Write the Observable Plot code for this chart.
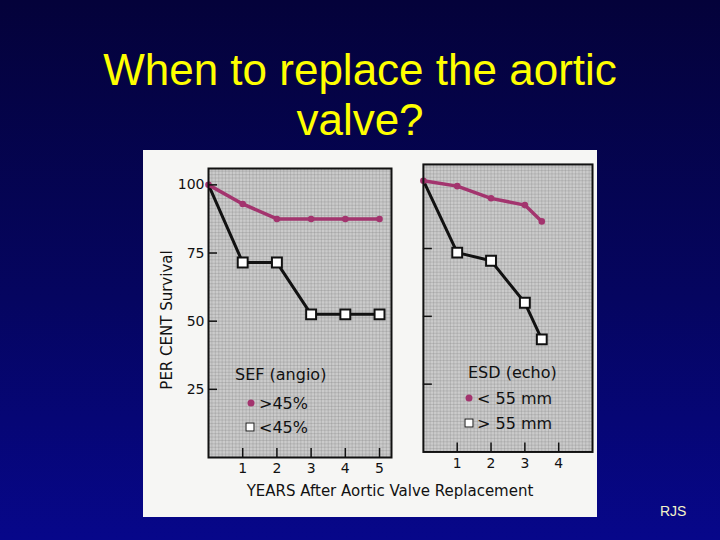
<!DOCTYPE html>
<html>
<head>
<meta charset="utf-8">
<script src="https://cdn.jsdelivr.net/npm/d3@7"></script>
<script src="https://cdn.jsdelivr.net/npm/@observablehq/plot@0.6"></script>
<style>
  html, body { margin: 0; padding: 0; }
  body {
    width: 720px; height: 540px; overflow: hidden; position: relative;
    background: linear-gradient(to bottom, #04023a 0%, #050560 55%, #07078a 100%);
    font-family: "Liberation Sans", Arial, sans-serif;
  }
  .title {
    position: absolute; left: 0; top: 45px; width: 720px;
    text-align: center; color: #ffff00; font-size: 44px; line-height: 50px;
  }
  #box {
    position: absolute; left: 143px; top: 150px; width: 454px; height: 367px;
    background: #f6f6f4;
  }
  #left { position: absolute; left: 0; top: 0; }
  #right { position: absolute; left: 257px; top: 0; }
  .lab {
    position: absolute; font-family: "DejaVu Sans", sans-serif; color: #111;
    white-space: nowrap;
  }
  .dot { position: absolute; width: 7px; height: 7px; border-radius: 50%; background: #a3346e; transform: translate(-50%, -50%); }
  .sq { position: absolute; width: 7px; height: 7px; border: 1.8px solid #111; background: #fff; transform: translate(-50%, -50%); }
  .rjs { position: absolute; left: 660px; top: 503px; color: #f4f4c8; font-size: 14px; }
</style>
</head>
<body>
<div class="title">When to replace the aortic<br>valve?</div>
<div id="box">
  <div id="left"></div>
  <div id="right"></div>
</div>
<div class="rjs">RJS</div>
<script>
// ---- data ----
const sefYears = [0, 1, 2, 3, 4, 5];
const sefAbove45 = [100, 93, 87.5, 87.5, 87.5, 87.5];
const sefBelow45 = [100, 71.5, 71.5, 52.5, 52.5, 52.5];

const esdYears = [0, 1, 2, 3, 3.5];
const esdBelow55 = [100, 98, 93.5, 91, 85];
const esdAbove55 = [100, 73.5, 70.5, 55, 41.5];

const yTicksLeft = [25, 50, 75, 100];
const yTicksRight = [25, 50, 75];
const xTicksLeft = [1, 2, 3, 4, 5];
const xTicksRight = [1, 2, 3, 4];

const sefLegend = ["SEF (angio)", ">45%", "<45%"];
const esdLegend = ["ESD (echo)", "< 55 mm", "> 55 mm"];
const yAxisLabel = "PER CENT Survival";
const xAxisLabel = "YEARS After Aortic Valve Replacement";

const magenta = "#a3346e";

function panel({years, top, bottom, xMax, xTicks, yTicks, showYLabels, width, height, margins}) {
  const rowsTop = years.map((x, i) => ({x, y: top[i]}));
  const rowsBot = years.map((x, i) => ({x, y: bottom[i]}));
  return Plot.plot({
    width, height, ...margins,
    style: {background: "transparent", fontFamily: "DejaVu Sans, sans-serif", fontSize: "14px", color: "#111", overflow: "visible"},
    x: {domain: [0, xMax], axis: null},
    y: {domain: [0, 106], axis: null},
    marks: [
      Plot.frame({fill: "#cbcbcb"}),
      Plot.gridX(d3.range(0.1, xMax, 0.1), {stroke: "#7e7e7e", strokeOpacity: 0.28}),
      Plot.gridY(d3.range(1.25, 106, 1.25), {stroke: "#7e7e7e", strokeOpacity: 0.28}),
      Plot.line(rowsBot, {x: "x", y: "y", stroke: "#111", strokeWidth: 3}),
      Plot.dot(rowsBot.filter(d => d.x > 0), {x: "x", y: "y", symbol: "square", r: 5.6, fill: "white", stroke: "#111", strokeWidth: 2}),
      Plot.line(rowsTop, {x: "x", y: "y", stroke: magenta, strokeWidth: 3.5}),
      Plot.dot(rowsTop, {x: "x", y: "y", r: 3.3, fill: magenta}),
      Plot.axisX(xTicks, {anchor: "bottom", tickSize: -9, tickPadding: 15, label: null, fontSize: 14, stroke: "#111", strokeWidth: 1.5}),
      Plot.axisY(yTicks, {anchor: "left", tickSize: -9, tickPadding: 13, label: null, fontSize: 14, stroke: "#111", strokeWidth: 1.5,
        tickFormat: showYLabels ? (d => String(d)) : (() => "")}),
      Plot.frame({stroke: "#111", strokeWidth: 2})
    ]
  });
}

document.getElementById("left").append(panel({
  years: sefYears, top: sefAbove45, bottom: sefBelow45, xMax: 5.35,
  xTicks: xTicksLeft, yTicks: yTicksLeft, showYLabels: true,
  width: 254, height: 337,
  margins: {marginLeft: 65, marginRight: 6, marginTop: 18, marginBottom: 30}
}));

document.getElementById("right").append(panel({
  years: esdYears, top: esdBelow55, bottom: esdAbove55, xMax: 5.0,
  xTicks: xTicksRight, yTicks: yTicksRight, showYLabels: false,
  width: 198, height: 333,
  margins: {marginLeft: 23, marginRight: 5, marginTop: 14, marginBottom: 30}
}));

// ---- labels & legends (positions relative to the white box) ----
const box = document.getElementById("box");
function addEl(cls, text, left, top, extra = {}) {
  const el = document.createElement("div");
  el.className = cls;
  if (text != null) el.textContent = text;
  el.style.left = left + "px";
  el.style.top = top + "px";
  Object.assign(el.style, extra);
  box.append(el);
  return el;
}
addEl("lab", xAxisLabel, 247, 341, {fontSize: "15px", transform: "translate(-50%, -50%)"});
addEl("lab", yAxisLabel, 24, 170, {fontSize: "15px", transform: "translate(-50%, -50%) rotate(-90deg)"});

addEl("lab", sefLegend[0], 92, 224, {fontSize: "16px", transform: "translateY(-50%)"});
addEl("dot", null, 108, 253);
addEl("lab", sefLegend[1], 116, 253, {fontSize: "16px", transform: "translateY(-50%)"});
addEl("sq", null, 107, 277);
addEl("lab", sefLegend[2], 116, 277, {fontSize: "16px", transform: "translateY(-50%)"});

addEl("lab", esdLegend[0], 325, 222, {fontSize: "16px", transform: "translateY(-50%)"});
addEl("dot", null, 326, 248);
addEl("lab", esdLegend[1], 334, 248, {fontSize: "16px", transform: "translateY(-50%)"});
addEl("sq", null, 326, 273);
addEl("lab", esdLegend[2], 334, 273, {fontSize: "16px", transform: "translateY(-50%)"});
</script>
</body>
</html>
